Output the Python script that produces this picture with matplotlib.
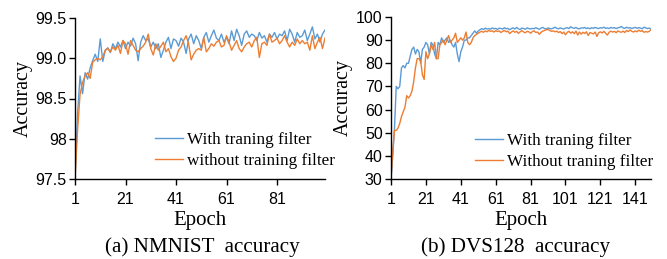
import matplotlib
matplotlib.use("Agg")
import matplotlib.pyplot as plt

# NMNIST accuracy, epochs 1..100
nm_epochs = list(range(1, 101))
nm_with = [
    97.50, 98.30, 98.78, 98.56, 98.82, 98.74, 98.88, 98.97, 99.05, 98.96,
    99.24, 98.96, 99.10, 99.13, 99.07, 99.18, 99.12, 99.20, 99.14, 99.22,
    99.12, 99.20, 99.15, 99.25, 99.18, 98.97, 99.20, 99.28, 99.22, 99.24,
    99.14, 99.20, 99.12, 99.18, 99.01, 99.10, 99.20, 99.26, 99.12, 99.24,
    99.22, 99.15, 99.25, 99.20, 99.06, 99.24, 99.30, 99.18, 99.28, 99.22,
    99.12, 99.26, 99.32, 99.20, 99.28, 99.35, 99.25, 99.22, 99.30, 99.20,
    99.26, 99.18, 99.34, 99.22, 99.36, 99.28, 99.16, 99.30, 99.34, 99.26,
    99.30, 99.28, 99.22, 99.32, 99.25, 99.28, 99.20, 99.30, 99.26, 99.32,
    99.24, 99.30, 99.28, 99.34, 99.22, 99.36, 99.30, 99.20, 99.32, 99.26,
    99.28, 99.35, 99.22, 99.30, 99.39, 99.24, 99.30, 99.20, 99.30, 99.35,
]
nm_without = [
    97.50, 98.10, 98.55, 98.70, 98.78, 98.82, 98.75, 98.95, 98.98, 99.00,
    98.98, 99.02, 99.10, 99.12, 99.08, 99.14, 99.10, 99.16, 99.06, 99.22,
    99.18, 99.05, 99.22, 99.16, 99.10, 99.08, 99.12, 99.15, 99.20, 99.30,
    99.12, 99.04, 99.18, 99.10, 99.15, 99.20, 99.08, 99.12, 99.02, 98.96,
    99.00, 99.10, 99.14, 99.22, 99.28, 99.18, 98.98, 99.05, 99.10, 99.12,
    99.10, 99.26, 99.08, 99.12, 99.18, 99.15, 99.20, 99.22, 99.14, 99.16,
    99.28, 99.20, 99.10, 99.16, 99.22, 99.12, 99.08, 99.14, 99.18, 99.20,
    99.14, 99.22, 99.26, 99.01, 99.18, 99.20, 99.16, 99.30, 99.20, 99.22,
    99.25, 99.18, 99.22, 99.28, 99.20, 99.14, 99.20, 99.16, 99.24, 99.18,
    99.22, 99.18, 99.20, 99.10, 99.28, 99.12, 99.20, 99.26, 99.12, 99.25,
]

# DVS128 accuracy, epochs 1..150
dvs_epochs = list(range(1, 151))
dvs_with = [
    30.0, 40.0, 52.0, 70.0, 69.0, 70.0, 78.0, 79.0, 78.0, 80.0,
    80.0, 83.0, 86.0, 87.0, 84.0, 86.0, 85.0, 80.0, 86.0, 87.0,
    89.0, 88.0, 84.0, 89.0, 88.0, 84.0, 82.0, 89.0, 88.0, 91.0,
    89.0, 90.0, 91.0, 89.0, 90.0, 88.0, 87.0, 89.0, 84.0, 80.7,
    85.0, 87.0, 90.0, 90.0, 91.0, 91.0, 92.0, 93.0, 94.0, 93.0,
    94.0, 94.5, 95.0, 94.6, 95.2, 94.8, 95.0, 94.7, 95.3, 94.9,
    95.1, 94.6, 95.2, 95.0, 94.8, 95.4, 94.9, 95.1, 94.5, 95.0,
    95.3, 94.8, 95.5, 94.9, 94.6, 95.2, 95.0, 94.7, 95.3, 95.0,
    94.8, 95.1, 94.9, 95.4, 95.0, 94.7, 95.2, 95.5, 95.0, 94.8,
    95.3, 95.0, 94.9, 95.2, 95.6, 95.1, 94.9, 95.3, 95.0, 94.8,
    95.2, 95.4, 95.0, 95.8, 95.3, 95.1, 95.5, 95.0, 94.9, 95.3,
    95.2, 95.5, 95.0, 95.3, 94.9, 95.4, 95.1, 95.5, 95.2, 95.0,
    95.4, 95.2, 95.6, 95.1, 95.3, 95.0, 95.5, 95.2, 95.4, 95.0,
    95.3, 95.5, 95.9, 95.3, 95.1, 95.6, 95.2, 95.4, 95.0, 95.3,
    95.5, 95.1, 95.4, 95.2, 94.9, 95.6, 95.3, 95.0, 95.2, 94.8,
]
dvs_without = [
    30.0, 42.0, 51.0, 51.0, 52.0, 54.0, 57.0, 59.0, 61.0, 66.0,
    65.0, 66.0, 68.0, 72.0, 78.0, 82.0, 82.0, 81.0, 75.0, 73.0,
    85.0, 82.0, 84.0, 88.0, 86.0, 89.0, 82.0, 82.0, 88.0, 89.0,
    90.0, 88.0, 90.0, 92.0, 89.0, 90.0, 91.0, 93.0, 89.0, 90.0,
    91.0, 90.0, 91.0, 93.5, 89.0, 88.0, 89.0, 91.0, 92.0, 92.5,
    93.0, 93.5, 93.8, 93.4, 94.0, 93.6, 94.2, 93.8, 94.0, 93.5,
    94.1, 93.7, 94.0, 93.3, 93.8, 94.2, 93.6, 93.9, 92.8, 93.5,
    94.0, 93.4, 93.8, 92.9, 93.6, 94.1, 93.5, 93.2, 93.8, 93.6,
    93.0, 93.7, 94.0, 93.3, 93.5, 92.5, 93.4, 93.9, 94.2, 94.5,
    94.6, 94.2, 93.8, 94.0, 93.6, 93.9, 93.3, 93.7, 92.8, 93.5,
    92.3, 93.4, 93.8, 93.0, 93.6, 92.8, 93.9, 92.2, 93.5, 92.6,
    93.4, 92.9, 93.6, 92.0, 93.3, 93.0, 92.7, 93.5, 91.6, 93.2,
    93.6, 93.1, 93.8, 93.0, 92.2, 93.4, 93.9, 93.5, 93.8, 93.2,
    94.0, 93.6, 93.4, 93.9, 93.3, 94.2, 93.7, 94.4, 93.8, 93.5,
    94.0, 93.6, 94.3, 93.8, 94.1, 93.4, 93.7, 93.5, 93.8, 94.5,
]

nm_yticks = [97.5, 98.0, 98.5, 99.0, 99.5]
nm_ylabels = ["97.5", "98", "98.5", "99.0", "99.5"]
nm_xticks = [1, 21, 41, 61, 81]
dvs_yticks = [30, 40, 50, 60, 70, 80, 90, 100]
dvs_xticks = [1, 21, 41, 61, 81, 101, 121, 141]

BLUE = "#5B9BD5"
ORANGE = "#ED7D31"
SERIF = "Liberation Serif"
SANS = "Liberation Sans"

fig = plt.figure(figsize=(6.67, 2.59), dpi=100)
ax1 = fig.add_axes([75 / 667, 1 - 179 / 259, 250 / 667, 161 / 259])
ax2 = fig.add_axes([391 / 667, 1 - 179 / 259, 260 / 667, 162 / 259])


def style(ax):
    for s in ["top", "right"]:
        ax.spines[s].set_visible(False)
    for s in ["left", "bottom"]:
        ax.spines[s].set_color("black")
        ax.spines[s].set_linewidth(1.0)
    ax.tick_params(direction="out", length=4, width=1, colors="black",
                   labelsize=11.5)
    ax.tick_params(axis="x", pad=5)
    ax.tick_params(axis="y", pad=2)
    for lab in ax.get_xticklabels() + ax.get_yticklabels():
        lab.set_fontfamily(SANS)
    ax.set_xlabel("Epoch", fontfamily=SERIF, fontsize=15, labelpad=3.5)
    ax.set_ylabel("Accuracy", fontfamily=SERIF, fontsize=14.5, labelpad=2)


def add_legend(ax, x0, y0):
    ax.legend(loc="upper left", bbox_to_anchor=(x0, y0), frameon=False,
              prop={"family": SERIF, "size": 12.3}, handlelength=1.65,
              handletextpad=0.25, labelspacing=0.3, borderpad=0,
              borderaxespad=0)


ax1.plot(nm_epochs, nm_with, color=BLUE, lw=1.0, label="With traning filter")
ax1.plot(nm_epochs, nm_without, color=ORANGE, lw=1.0, label="without training filter")
ax1.set_xlim(1, 100)
ax1.set_ylim(97.5, 99.5)
ax1.set_yticks(nm_yticks)
ax1.set_yticklabels(nm_ylabels)
ax1.set_xticks(nm_xticks)
style(ax1)
add_legend(ax1, (155 - 75) / 250, (179 - 132) / 161)

ax2.plot(dvs_epochs, dvs_with, color=BLUE, lw=1.0, label="With traning filter")
ax2.plot(dvs_epochs, dvs_without, color=ORANGE, lw=1.0, label="Without traning filter")
ax2.set_xlim(1, 150)
ax2.set_ylim(30, 100)
ax2.set_yticks(dvs_yticks)
ax2.set_xticks(dvs_xticks)
style(ax2)
add_legend(ax2, (475 - 391) / 260, (179 - 133) / 162)

fig.text(202 / 667, 1 - 247 / 259, "(a) NMNIST  accuracy", ha="center", va="center",
         fontfamily=SERIF, fontsize=15.2)
fig.text(516 / 667, 1 - 247 / 259, "(b) DVS128  accuracy", ha="center", va="center",
         fontfamily=SERIF, fontsize=15.2)

fig.savefig("out.png", dpi=100)
